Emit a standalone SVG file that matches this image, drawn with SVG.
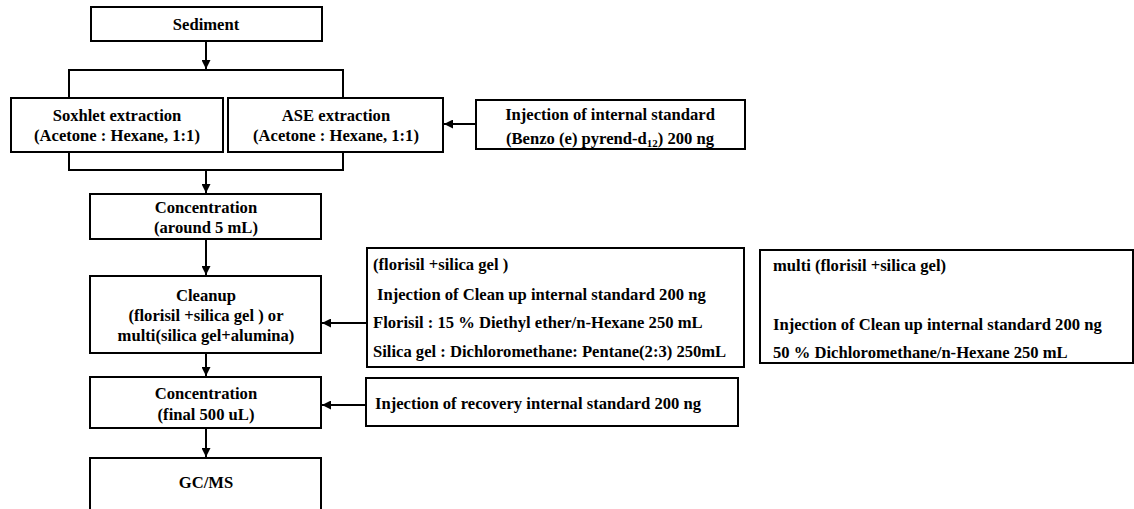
<svg xmlns="http://www.w3.org/2000/svg" width="1134" height="509" viewBox="0 0 1134 509">
<style>
.box{fill:#fff;stroke:#000;stroke-width:2}
.t{font-family:"Liberation Serif","Times New Roman",serif;font-weight:bold;font-size:16.6px;fill:#000}
.c{text-anchor:middle}
.ln{fill:none;stroke:#000;stroke-width:2}
</style>
<defs>
<marker id="ah" viewBox="0 0 10 10" refX="10" refY="5" markerWidth="4.5" markerHeight="4.5" orient="auto" markerUnits="strokeWidth">
<path d="M0,0L10,5L0,10z" fill="#000"/>
</marker>
</defs>
<rect width="1134" height="509" fill="#fff"/>
<g id="connectors">
<path class="ln" d="M206,41V69" marker-end="url(#ah)"/>
<path class="ln" d="M69,97V70H343V97"/>
<path class="ln" d="M69,152V170H343V152"/>
<path class="ln" d="M206,170V193" marker-end="url(#ah)"/>
<path class="ln" d="M476,124H444" marker-end="url(#ah)"/>
<path class="ln" d="M206,239V275" marker-end="url(#ah)"/>
<path class="ln" d="M366,323H322" marker-end="url(#ah)"/>
<path class="ln" d="M206,353V376" marker-end="url(#ah)"/>
<path class="ln" d="M366,405H322" marker-end="url(#ah)"/>
<path class="ln" d="M206,428V457" marker-end="url(#ah)"/>
</g>
<g id="sediment">
<rect class="box" x="91" y="7" width="231" height="34"/>
<text class="t c" x="206" y="30">Sediment</text>
</g>
<g id="soxhlet">
<rect class="box" x="11" y="98" width="212" height="54"/>
<text class="t c" x="117" y="121">Soxhlet extraction</text>
<text class="t c" x="117" y="141">(Acetone : Hexane, 1:1)</text>
</g>
<g id="ase">
<rect class="box" x="228" y="98" width="215" height="54"/>
<text class="t c" x="336" y="121">ASE extraction</text>
<text class="t c" x="336" y="141">(Acetone : Hexane, 1:1)</text>
</g>
<g id="injection-is">
<rect class="box" x="476" y="100" width="269" height="49"/>
<text class="t c" x="610" y="120">Injection of internal standard</text>
<text class="t c" x="610" y="144">(Benzo (e) pyrend-d<tspan font-size="11" dy="3">12</tspan><tspan dy="-3">) 200 ng</tspan></text>
</g>
<g id="conc1">
<rect class="box" x="90" y="194" width="231" height="45"/>
<text class="t c" x="206" y="213">Concentration</text>
<text class="t c" x="206" y="233">(around 5 mL)</text>
</g>
<g id="cleanup">
<rect class="box" x="90" y="276" width="231" height="77"/>
<text class="t c" x="206" y="301">Cleanup</text>
<text class="t c" x="206" y="321">(florisil +silica gel ) or</text>
<text class="t c" x="206" y="341">multi(silica gel+alumina)</text>
</g>
<g id="cleanup-detail">
<rect class="box" x="367" y="248" width="377" height="119"/>
<text class="t" x="373" y="270">(florisil +silica gel )</text>
<text class="t" x="377" y="300">Injection of Clean up internal standard 200 ng</text>
<text class="t" x="373" y="328">Florisil : 15 % Diethyl ether/n-Hexane 250 mL</text>
<text class="t" x="373" y="357">Silica gel : Dichloromethane: Pentane(2:3) 250mL</text>
</g>
<g id="multi-detail">
<rect class="box" x="760" y="250" width="373" height="113"/>
<text class="t" x="773" y="271">multi (florisil +silica gel)</text>
<text class="t" x="773" y="330">Injection of Clean up internal standard 200 ng</text>
<text class="t" x="773" y="358">50 % Dichloromethane/n-Hexane 250 mL</text>
</g>
<g id="conc2">
<rect class="box" x="90" y="377" width="231" height="51"/>
<text class="t c" x="206" y="399">Concentration</text>
<text class="t c" x="206" y="420">(final 500 uL)</text>
</g>
<g id="recovery">
<rect class="box" x="366" y="378" width="372" height="48"/>
<text class="t" x="375" y="409">Injection of recovery internal standard 200 ng</text>
</g>
<g id="gcms">
<rect class="box" x="90" y="458" width="231" height="60"/>
<text class="t c" x="206" y="488">GC/MS</text>
</g>
</svg>
